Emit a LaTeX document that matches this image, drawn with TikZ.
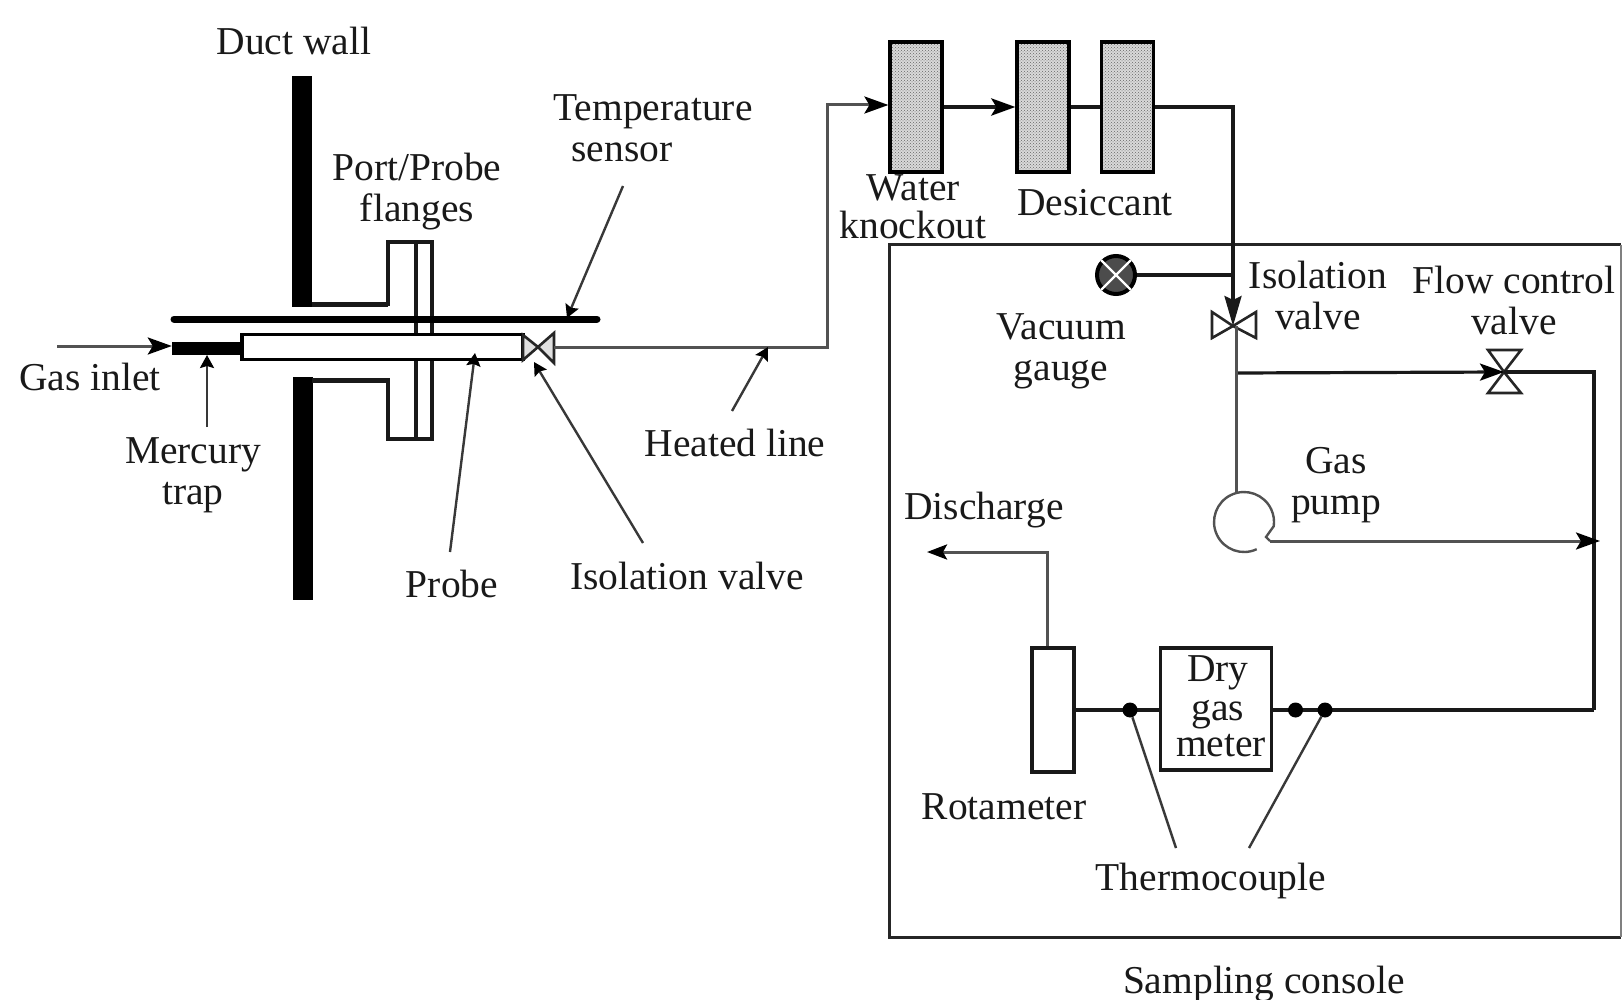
\documentclass[tikz,border=0pt]{standalone}
\usepackage{fontspec}
\setmainfont{Liberation Serif}
\usetikzlibrary{arrows.meta,patterns,calc}
\tikzset{
  lab/.style={inner sep=0pt,align=center,text=black!90,font=\fontsize{39.5}{41}\selectfont},
  pipe/.style={draw=black!90,line width=3.2pt},
  thin pipe/.style={draw=black!68,line width=3pt},
  leader/.style={draw=black!78,line width=2.4pt},
  wall/.style={fill=black,draw=none},
  flange/.style={draw=black!90,line width=3.4pt},
  head/.style={-{Stealth[length=24pt,width=17pt,inset=5pt,color=black]}},
  smallhead/.style={-{Stealth[length=13pt,width=14pt,inset=2pt,color=black]}},
  vessel/.style={draw=black,line width=3.2pt,preaction={fill=black!15},pattern=crosshatch dots,pattern color=black!60,inner sep=0pt,minimum width=52pt,minimum height=130pt},
  unit/.style={draw=black!90,line width=3.2pt,inner sep=0pt},
  valve/.style={draw=black!85,line width=2.6pt,fill=black!12},
  tc/.style={circle,fill=black,inner sep=0pt,minimum size=15pt},
}
\begin{document}
\begin{tikzpicture}[x=1pt,y=-1pt]
\useasboundingbox (0,0) rectangle (1622,1000);
% duct wall
\fill[wall] (292,76) rectangle (312,307);
\fill[wall] (293,377) rectangle (313,600);
% flanges
\draw[flange,line width=5pt] (312,304.5) -- (388,304.5);
\draw[flange] (388,306) -- (388,242) -- (432,242) -- (432,334);
\draw[flange] (416,242) -- (416,334);
\draw[flange,line width=5pt] (312,380) -- (388,380);
\draw[flange] (388,378) -- (388,439) -- (432,439) -- (432,359);
\draw[flange] (416,439) -- (416,359);
% temperature sensor
\coordinate (sensL) at (174,319);
\coordinate (sensR) at (597,319);
\draw[line width=7pt,black,line cap=round] (sensL) -- (sensR);
% mercury trap and probe
\node[fill=black,inner sep=0pt,minimum width=71pt,minimum height=13pt] (trap) at (207.5,348) {};
\node[draw=black,line width=3.4pt,fill=white,inner sep=0pt,minimum width=281pt,minimum height=25pt] (probe) at (382.5,347) {};
% left valve
\coordinate (lv) at (538,347);
\draw[valve] (lv) -- (523,335) -- (523,360) -- cycle;
\draw[valve] (lv) -- (554,333) -- (554,363) -- cycle;
% gas inlet
\coordinate (inlet) at (57,346);
\draw[thin pipe,head] (inlet) -- (inlet -| trap.west);
% heated line
\coordinate (hc1) at (827,347);
\coordinate (hc2) at (827,105);
\node[vessel] (box1) at (916,107) {};
\node[vessel] (box2) at (1043,107) {};
\node[vessel] (box3) at (1127.5,107) {};
\draw[thin pipe,head] (554,347) -- (hc1) -- (hc2) -- (hc2 -| box1.west);
\draw[pipe,line width=4pt,head] (box1.east) -- (box2.west);
\draw[pipe,line width=4pt] (box2.east) -- (box3.west);
% console
\coordinate (cTL) at (889,245);
\coordinate (cBL) at (889,937);
\coordinate (cTR) at (1621,245);
\coordinate (cBR) at (1621,937);
\draw[draw=black!85,line width=3pt] (cTR) -- (cTL) -- (cBL) -- (cBR);
\draw[draw=black!50,line width=2pt] (cTR) -- (cBR);
% isolation valve, gauge
\coordinate (iv) at (1233,326);
\coordinate (ivb) at (1236,326);
\draw[valve,fill=white] (iv) -- (1212,312) -- (1212,338) -- cycle;
\draw[valve,fill=white] (iv) -- (1256,312) -- (1256,338) -- cycle;
\coordinate (j1) at (1233,107);
\draw[pipe,-{Stealth[length=30pt,width=17pt,inset=4pt]}] (box3.east) -- (j1) -- (iv);
\node[circle,draw=black,line width=4pt,fill=black!70,inner sep=0pt,minimum size=38pt] (gauge) at (1116,275) {};
\draw[white,line width=2.4pt] (gauge.north west) -- (gauge.south east) (gauge.north east) -- (gauge.south west);
\draw[pipe] (gauge.east) -- (gauge -| j1);
% flow control branch
\coordinate (fv) at (1504,372);
\draw[valve,fill=white] (fv) -- (1488,350) -- (1521,350) -- cycle;
\draw[valve,fill=white] (fv) -- (1488,393) -- (1521,393) -- cycle;
\coordinate (j2) at (1236,373);
\coordinate (rt) at (1594,372);
\coordinate (rb) at (1594,710);
\coordinate (rm) at (1600,542);
\draw[pipe,head] (j2) -- (fv);
\draw[pipe] (fv) -- (rt) -- (rb);
% pump
\coordinate (pc) at (1244,522);
\draw[draw=black!68,line width=2.4pt] ($(pc)+(12.7,27.2)$) arc[start angle=65,end angle=368,radius=30] -- (1266,537) -- (1270,541);
\draw[thin pipe] (ivb) -- (ivb |- 0,492);
\draw[thin pipe,head] (1270,541) -- (rm |- 0,541);
% rotameter, meter
\node[unit,minimum width=42pt,minimum height=124pt] (rota) at (1053,710) {};
\node[unit,minimum width=111pt,minimum height=122pt,fill=white] (meter) at (1216,709) {};
\coordinate (dis) at (927,552);
\coordinate (disc) at (1047,552);
\draw[thin pipe,-{Stealth[length=20pt,width=15pt,inset=4pt,color=black]}] (disc |- rota.north) -- (disc) -- (dis);
\draw[pipe] (rota.east |- 0,710) -- (meter.west |- 0,710);
\draw[pipe,line width=4.4pt] (meter.east |- 0,710) -- (rb);
\node[tc] (tc1) at (1130,710) {};
\node[tc] (tc2) at (1295.5,710) {};
\node[tc] (tc3) at (1325,710) {};
% leaders
\coordinate (lTrap) at (207,427);
\coordinate (lProbe) at (450,552);
\coordinate (lIso) at (643,543);
\coordinate (lTemp) at (623,186);
\coordinate (lHeat) at (732,411);
\coordinate (lTc1) at (1176,848);
\coordinate (lTc2) at (1249,848);
\draw[leader,smallhead] (lTrap) -- (207,355);
\draw[leader,smallhead] (lProbe) -- (475,353);
\draw[leader,smallhead] (lIso) -- (534,362);
\draw[leader,smallhead] (lTemp) -- (567,318);
\draw[leader,smallhead] (lHeat) -- (768,347);
\draw[leader] (lTc1) -- (tc1);
\draw[leader] (lTc2) -- (tc3);
% labels
\node[lab] (t1) at (294,41) {Duct wall};
\node[lab] (t2) at (417,192) {Port/Probe\\flanges};
\node[lab] (t3) at (653,128) {Temperature\\sensor\hspace*{62pt}};
\node[lab] (t4) at (90,377) {Gas inlet};
\node[lab] (t5) at (193,475) {Mercury\\trap};
\node[lab] (t6) at (452,584) {Probe};
\node[lab] (t7) at (687,576) {Isolation valve};
\node[lab] (t8) at (735,443) {Heated line};
\node[lab] (t9) at (913,207) {Water\\[-3pt]knockout};
\node[lab] (t10) at (1095,203) {Desiccant};
\node[lab] (t11) at (1061,351) {Vacuum\\gauge};
\node[lab] (t12) at (1318,295) {Isolation\\valve};
\node[lab] (t13) at (1514,300) {Flow control\\valve};
\node[lab] (t14) at (1336,485) {Gas\\pump};
\node[lab] (t15) at (984,510) {Discharge};
\node[lab] (t16) at (1218,706) {Dry\\[-2pt]gas\\[-5pt]\hspace*{6pt}meter};
\node[lab] (t17) at (1004,807) {Rotameter};
\node[lab] (t18) at (1211,881) {Thermocouple};
\node[lab] (t19) at (1264,984) {Sampling console};
\end{tikzpicture}
\end{document}
